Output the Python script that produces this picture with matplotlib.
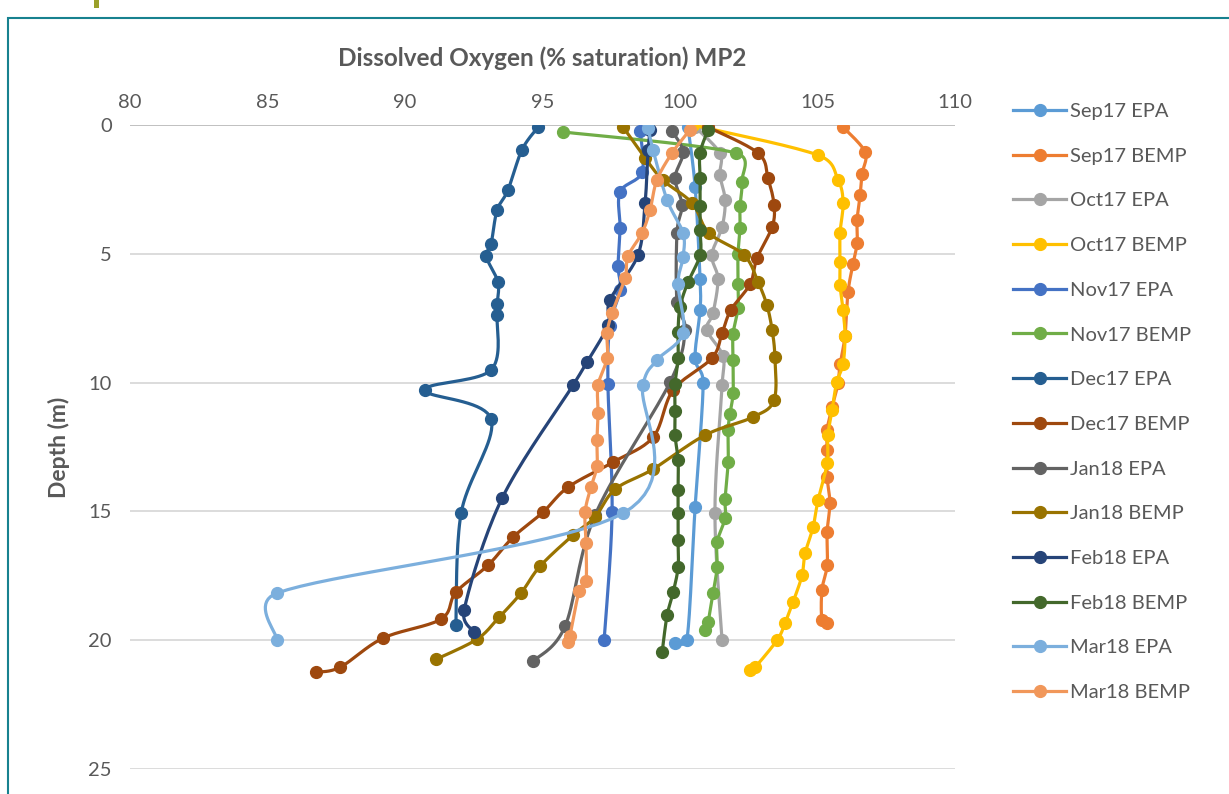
import numpy as np
import matplotlib
matplotlib.use("Agg")
import matplotlib.pyplot as plt
from matplotlib.lines import Line2D
from matplotlib.patches import Rectangle

plt.rcParams['font.family'] = ['Lato', 'DejaVu Sans']

# Dissolved oxygen (% saturation) and depth (m) per survey
sep17_epa_do = [100.29, 100.55, 100.73, 100.73, 100.55, 100.84, 100.55, 100.25, 99.82]
sep17_epa_d = [0.08, 2.41, 5.98, 7.18, 9.05, 10.02, 14.83, 20.0, 20.12]

sep17_bemp_do = [105.93, 106.73, 106.62, 106.55, 106.44, 106.44, 106.29, 106.11, 106.0, 105.82, 105.75,
                 105.53, 105.35, 105.35, 105.35, 105.45, 105.35, 105.35, 105.16, 105.16, 105.35]
sep17_bemp_d = [0.08, 1.05, 1.9, 2.72, 3.69, 4.58, 5.4, 6.49, 8.19, 9.28, 10.02,
                10.95, 11.84, 12.62, 13.67, 14.68, 15.8, 17.09, 18.06, 19.22, 19.34]

oct17_epa_do = [100.55, 101.45, 101.45, 101.64, 101.53, 101.16, 101.38, 101.2, 100.98, 101.56, 101.53, 101.27, 101.53]
oct17_epa_d = [0.08, 1.09, 1.94, 2.91, 3.96, 5.05, 5.98, 7.3, 7.96, 8.97, 10.1, 15.07, 20.0]

oct17_bemp_do = [100.47, 105.02, 105.75, 105.93, 105.82, 105.82, 105.82, 105.93, 106.0, 105.93, 105.7, 105.53,
                 105.38, 105.35, 105.02, 104.84, 104.55, 104.44, 104.11, 103.82, 103.53, 102.73, 102.55]
oct17_bemp_d = [0.0, 1.17, 2.14, 3.03, 4.19, 5.32, 6.21, 7.18, 8.19, 9.28, 9.98, 11.07,
                12.04, 13.13, 14.56, 15.61, 16.62, 17.48, 18.52, 19.34, 20.0, 21.05, 21.17]

nov17_epa_do = [98.55, 98.62, 97.82, 97.82, 97.75, 97.82, 97.45, 97.38, 97.53, 97.24]
nov17_epa_d = [0.23, 1.83, 2.6, 4.0, 5.48, 6.41, 7.81, 10.06, 15.03, 20.0]

nov17_bemp_do = [95.75, 102.04, 102.25, 102.18, 102.18, 102.11, 102.11, 102.11, 101.93, 101.93, 101.93,
                 101.82, 101.75, 101.75, 101.64, 101.64, 101.35, 101.35, 101.2, 101.02, 100.91]
nov17_bemp_d = [0.27, 1.09, 2.21, 3.15, 4.0, 5.0, 6.17, 7.1, 8.12, 9.13, 10.4,
                11.2, 11.84, 13.09, 14.52, 15.26, 16.19, 17.17, 18.17, 19.3, 19.6]

dec17_epa_do = [94.84, 94.25, 93.75, 93.35, 93.13, 92.95, 93.38, 93.35, 93.35, 93.13, 90.73, 93.13, 92.04, 91.85]
dec17_epa_d = [0.08, 0.97, 2.52, 3.3, 4.62, 5.09, 6.1, 6.95, 7.38, 9.51, 10.29, 11.42, 15.07, 19.42]

dec17_bemp_do = [101.02, 102.84, 103.2, 103.42, 103.35, 102.8, 102.55, 101.85, 101.53, 101.16, 99.75,
                 99.02, 97.56, 95.93, 95.02, 93.93, 93.02, 91.85, 91.31, 89.2, 87.64, 86.76]
dec17_bemp_d = [0.08, 1.09, 2.06, 3.11, 3.96, 5.17, 6.17, 7.18, 8.08, 9.05, 10.29,
                12.12, 13.09, 14.06, 15.03, 16.0, 17.09, 18.14, 19.18, 19.92, 21.05, 21.24]

jan18_epa_do = [99.71, 100.11, 99.82, 100.07, 99.89, 99.89, 100.18, 99.64, 96.91, 95.82, 94.65]
jan18_epa_d = [0.23, 1.05, 2.06, 3.11, 4.19, 6.87, 7.96, 9.98, 15.15, 19.46, 20.82]

jan18_bemp_do = [97.93, 98.73, 99.38, 100.44, 101.05, 102.33, 102.84, 103.16, 103.35, 103.45, 103.42,
                 102.65, 100.91, 99.02, 97.64, 96.91, 96.11, 94.91, 94.22, 93.42, 92.62, 91.13]
jan18_bemp_d = [0.08, 1.28, 2.14, 3.03, 4.19, 5.05, 6.1, 6.99, 7.96, 9.01, 10.68,
                11.34, 12.04, 13.36, 14.14, 15.22, 15.92, 17.13, 18.17, 19.11, 19.96, 20.74]

feb18_epa_do = [98.91, 98.84, 98.73, 98.47, 97.45, 97.38, 96.62, 96.11, 93.53, 92.15, 92.51]
feb18_epa_d = [0.19, 0.97, 3.03, 5.05, 6.8, 7.77, 9.2, 10.1, 14.49, 18.83, 19.69]

feb18_bemp_do = [101.02, 100.73, 100.73, 100.73, 100.73, 100.73, 100.29, 100.0, 99.93, 99.93, 99.82,
                 99.82, 99.82, 99.93, 99.93, 99.93, 99.93, 99.93, 99.75, 99.53, 99.35]
feb18_bemp_d = [0.19, 1.09, 2.06, 3.15, 4.08, 5.05, 6.1, 7.07, 8.04, 9.05, 10.06,
                11.11, 12.04, 13.01, 14.17, 15.07, 16.12, 17.17, 18.14, 19.03, 20.47]

mar18_epa_do = [98.84, 99.02, 99.53, 100.11, 100.11, 99.93, 100.11, 99.16, 98.65, 97.93, 85.35, 85.35]
mar18_epa_d = [0.12, 0.97, 2.91, 4.19, 5.13, 6.17, 8.08, 9.13, 10.1, 15.07, 18.17, 20.0]

mar18_bemp_do = [100.36, 99.71, 99.16, 98.91, 98.62, 98.11, 98.0, 97.53, 97.35, 97.35, 97.02,
                 97.02, 96.98, 96.98, 96.76, 96.55, 96.58, 96.58, 96.33, 96.0, 95.93]
mar18_bemp_d = [0.19, 1.09, 2.14, 3.3, 4.19, 5.09, 5.94, 7.3, 8.08, 9.05, 10.1,
                11.18, 12.23, 13.24, 14.06, 15.03, 16.23, 17.71, 18.1, 19.84, 20.08]

series = [
    ("Sep17 EPA", sep17_epa_do, sep17_epa_d, "#5B9BD5"),
    ("Sep17 BEMP", sep17_bemp_do, sep17_bemp_d, "#ED7D31"),
    ("Oct17 EPA", oct17_epa_do, oct17_epa_d, "#A5A5A5"),
    ("Oct17 BEMP", oct17_bemp_do, oct17_bemp_d, "#FFC000"),
    ("Nov17 EPA", nov17_epa_do, nov17_epa_d, "#4472C4"),
    ("Nov17 BEMP", nov17_bemp_do, nov17_bemp_d, "#70AD47"),
    ("Dec17 EPA", dec17_epa_do, dec17_epa_d, "#255E91"),
    ("Dec17 BEMP", dec17_bemp_do, dec17_bemp_d, "#9E480E"),
    ("Jan18 EPA", jan18_epa_do, jan18_epa_d, "#636363"),
    ("Jan18 BEMP", jan18_bemp_do, jan18_bemp_d, "#997300"),
    ("Feb18 EPA", feb18_epa_do, feb18_epa_d, "#264478"),
    ("Feb18 BEMP", feb18_bemp_do, feb18_bemp_d, "#43682B"),
    ("Mar18 EPA", mar18_epa_do, mar18_epa_d, "#7CAFDD"),
    ("Mar18 BEMP", mar18_bemp_do, mar18_bemp_d, "#F1975A"),
]


def limit(v, chord):
    # keep control handles from running far past short segments
    n = np.hypot(*v)
    m = 0.6 * chord
    return v * (m / n) if n > m else v


# Excel-like smoothed line (Catmull-Rom as cubic Bezier)
def smooth(x, y, n=20):
    sy = 25.75 / 27.5  # roughly equal pixel scale
    p = np.column_stack([np.asarray(x, float), np.asarray(y, float) * sy])
    out = [p[0]]
    t = np.linspace(0, 1, n)[1:, None]
    for i in range(len(p) - 1):
        p0 = p[i - 1] if i > 0 else p[i]
        p1, p2 = p[i], p[i + 1]
        p3 = p[i + 2] if i + 2 < len(p) else p[i + 1]
        chord = np.hypot(*(p2 - p1))
        c1 = p1 + limit((p2 - p0) / 6, chord)
        c2 = p2 - limit((p3 - p1) / 6, chord)
        seg = ((1 - t) ** 3) * p1 + 3 * ((1 - t) ** 2) * t * c1 + 3 * (1 - t) * t ** 2 * c2 + t ** 3 * p2
        out.extend(seg)
    out = np.array(out)
    return out[:, 0], out[:, 1] / sy


fig = plt.figure(figsize=(12.29, 7.94), dpi=100)
ax = fig.add_axes([130 / 1229, 25 / 794, 825 / 1229, 644 / 794])

handles = []
for name, do, d, col in series:
    sx, sy_ = smooth(do, d)
    ax.plot(sx, sy_, color=col, lw=2.3, solid_capstyle='round', zorder=3)
    ax.plot(do, d, 'o', color=col, ms=8.5, mec=col, zorder=3)
    handles.append(Line2D([0], [0], color=col, lw=2.3, marker='o', ms=8.5, label=name))

ax.set_xlim(80, 110)
ax.set_ylim(25, 0)
ax.set_xticks(np.arange(80, 111, 5))
ax.set_yticks(np.arange(0, 26, 5))
ax.xaxis.tick_top()
ax.tick_params(axis='both', length=0, labelsize=14.5, labelcolor='#595959')
ax.tick_params(axis='x', pad=10)
ax.tick_params(axis='y', pad=13)
ax.grid(axis='y', color='#D9D9D9', lw=1.3, zorder=0)
ax.set_axisbelow(True)
for s in ax.spines.values():
    s.set_visible(False)
ax.axhline(0, color='#BFBFBF', lw=1.3, zorder=1)

ax.set_ylabel("Depth (m)", fontsize=16.5, fontweight='bold', color='#595959', labelpad=13)
fig.text(542 / 1229, 1 - 58 / 794, "Dissolved Oxygen (% saturation) MP2", ha='center', va='center',
         fontsize=17.5, fontweight='bold', color='#595959')

fig.legend(handles=handles, loc='upper left', bbox_to_anchor=(1013 / 1229, 1 - 103 / 794),
           frameon=False, fontsize=14.5, labelcolor='#595959', handlelength=2.64,
           handletextpad=0.2, labelspacing=1.37, borderpad=0, borderaxespad=0)

# teal frame around the chart area and heading fragment
fig.patches.append(Rectangle((8 / 1229, -0.01), 1.0, 1 - 18 / 794 + 0.01, transform=fig.transFigure,
                             fill=False, edgecolor='#17818F', lw=1.5))
fig.patches.append(Rectangle((94 / 1229, 1 - 8 / 794), 5 / 1229, 8 / 794, transform=fig.transFigure,
                             color='#9AA02A', lw=0))

fig.savefig("out.png", dpi=100)
